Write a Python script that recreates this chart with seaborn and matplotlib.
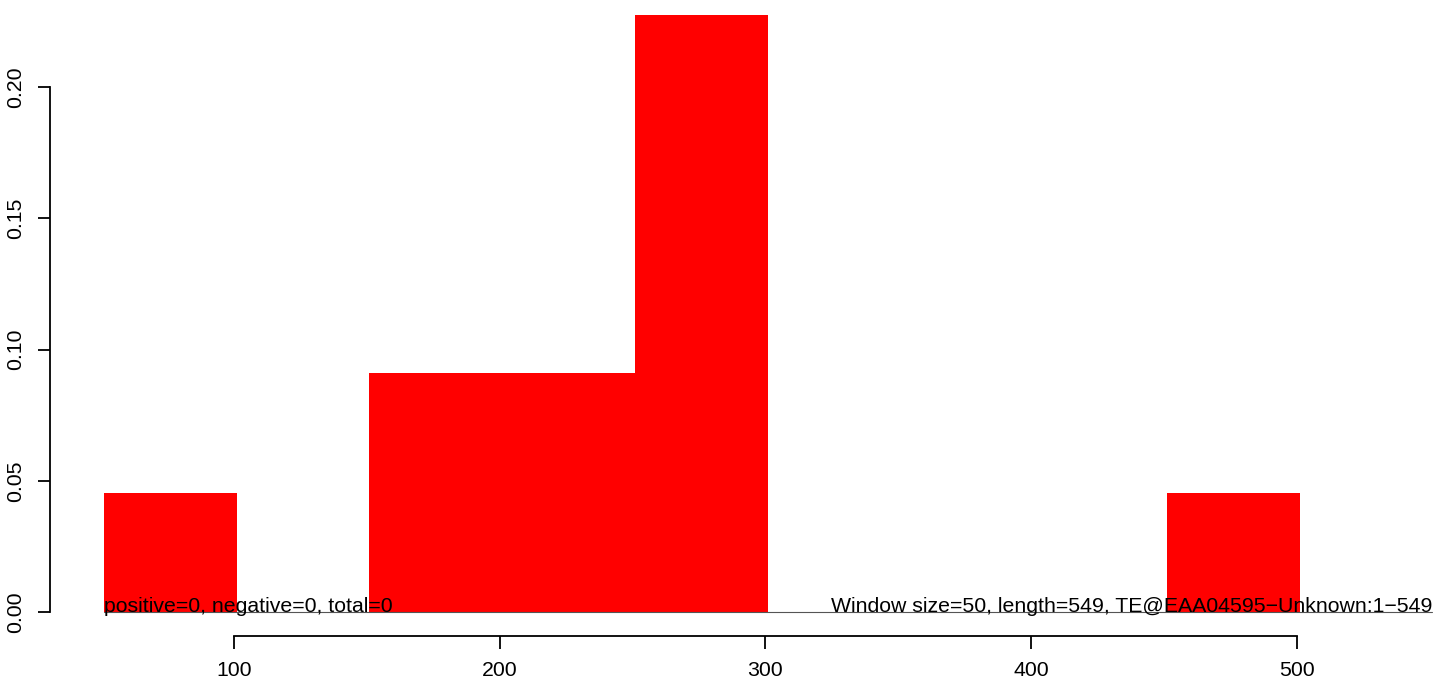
import matplotlib
matplotlib.use("Agg")
import matplotlib.pyplot as plt
import seaborn as sns
import pandas as pd

# window starts (window size 50) and density values
win_start = [51, 151, 201, 251, 451]
density = [1 / 22, 2 / 22, 2 / 22, 5 / 22, 1 / 22]
window = 50
seq_len = 549
left_label = "positive=0, negative=0, total=0"
right_label = "Window size=50, length=549, TE@EAA04595\u2212Unknown:1\u2212549"
xticks = [100, 200, 300, 400, 500]
yticks = [0.00, 0.05, 0.10, 0.15, 0.20]

sns.set_style("white")
plt.rcParams["font.family"] = ["Liberation Sans", "DejaVu Sans"]
plt.rcParams["font.size"] = 15.3

W, H = 1444, 687
fig = plt.figure(figsize=(W / 100, H / 100), dpi=100)
# plot region: x 50..1444 px, y 0..636 px (from top)
ax = fig.add_axes([50 / W, (H - 636) / H, (W - 50) / W, 636 / H])

df = pd.DataFrame({"pos": [s + window / 2 for s in win_start], "dens": density})
edges = list(range(win_start[0], win_start[-1] + window + 1, window))
sns.histplot(data=df, x="pos", weights="dens", bins=edges, color="#FF0000",
             alpha=1, linewidth=0, ax=ax)

px = 2.6575  # pixels per x unit
ax.set_xlim(30.8, 30.8 + (W - 50) / px)
ax.set_ylim(-24 / 2625, 612 / 2625)

ax.plot([win_start[0], win_start[0] + 500], [0, 0], color="#555555", lw=0.8)
ax.text(win_start[0], 0, left_label, ha="left", va="baseline", color="black")
ax.text(win_start[0] + 500, 0, right_label, ha="right", va="baseline", color="black")

for s in ["top", "right"]:
    ax.spines[s].set_visible(False)
ax.spines["left"].set_bounds(0, 0.2)
ax.spines["bottom"].set_bounds(100, 500)
for s in ["left", "bottom"]:
    ax.spines[s].set_linewidth(1.3)
    ax.spines[s].set_color("black")
ax.set_xticks(xticks)
ax.set_xticklabels([str(v) for v in xticks])
ax.set_yticks(yticks)
ax.set_yticklabels([f"{v:.2f}" for v in yticks], rotation=90, va="center")
ax.tick_params(axis="both", direction="out", length=9, width=1.3, color="black",
               labelcolor="black", labelsize=15.3, left=True, bottom=True)
ax.tick_params(axis="x", pad=9)
ax.tick_params(axis="y", pad=9)
ax.set_xlabel("")
ax.set_ylabel("")
ax.patch.set_alpha(0)

fig.savefig("out.png", dpi=100)
